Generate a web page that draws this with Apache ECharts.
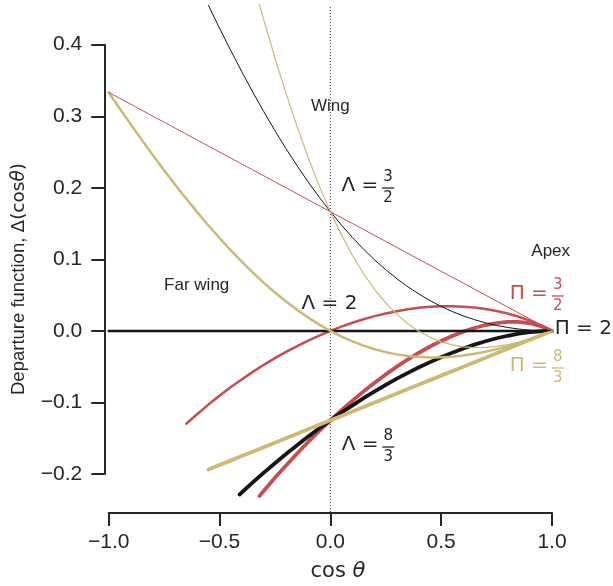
<!DOCTYPE html>
<html>
<head>
<meta charset="utf-8">
<title>Departure function</title>
<script src="https://cdn.jsdelivr.net/npm/echarts@6.0.0/dist/echarts.min.js"></script>
<style>
html, body { margin: 0; padding: 0; background: #ffffff; }
#chart { width: 613px; height: 586px; }
</style>
</head>
<body>
<div id="chart"></div>
<script>
const N = null;

// cos(theta) samples shared by the departure curves
const cosGrid = [-1.00, -0.95, -0.90, -0.85, -0.80, -0.75, -0.70, -0.65, -0.60, -0.55,
                 -0.50, -0.45, -0.40, -0.35, -0.30, -0.25, -0.20, -0.15, -0.10, -0.05,
                  0.00,  0.05,  0.10,  0.15,  0.20,  0.25,  0.30,  0.35,  0.40,  0.45,
                  0.50,  0.55,  0.60,  0.65,  0.70,  0.75,  0.80,  0.85,  0.90,  0.95, 1.00];

// Departure function Δ(cosθ) per (Π, Λ); null where a curve is not drawn.
// Λ = 3/2 family (thin)
const dPi32Lam32 = [0.3333, 0.3250, 0.3167, 0.3083, 0.3000, 0.2917, 0.2833, 0.2750, 0.2667, 0.2583,
                    0.2500, 0.2417, 0.2333, 0.2250, 0.2167, 0.2083, 0.2000, 0.1917, 0.1833, 0.1750,
                    0.1667, 0.1583, 0.1500, 0.1417, 0.1333, 0.1250, 0.1167, 0.1083, 0.1000, 0.0917,
                    0.0833, 0.0750, 0.0667, 0.0583, 0.0500, 0.0417, 0.0333, 0.0250, 0.0167, 0.0083, 0];
const dPi2Lam32 = [N, N, N, N, N, N, N, N, N, 0.4548,
                   0.4231, 0.3923, 0.3625, 0.3338, 0.3063, 0.2799, 0.2547, 0.2308, 0.2081, 0.1868,
                   0.1667, 0.1479, 0.1304, 0.1141, 0.0992, 0.0855, 0.0729, 0.0616, 0.0514, 0.0423,
                   0.0342, 0.0271, 0.0209, 0.0157, 0.0113, 0.0076, 0.0048, 0.0026, 0.0011, 0.0003, 0];
const dPi83Lam32Head = [-0.32, 0.4560];
const dPi83Lam32 = [N, N, N, N, N, N, N, N, N, N,
                    N, N, N, N, 0.4342, 0.3816, 0.3319, 0.2855, 0.2424, 0.2027,
                    0.1667, 0.1342, 0.1053, 0.0799, 0.0578, 0.0390, 0.0231, 0.0099, -0.0007, -0.0090,
                    -0.0153, -0.0196, -0.0222, -0.0233, -0.0231, -0.0216, -0.0191, -0.0155, -0.0111, -0.0059, 0];
// Λ = 2 family (medium)
const dPi32Lam2 = [N, N, N, N, N, N, N, -0.1298, -0.1161, -0.1030,
                   -0.0906, -0.0789, -0.0678, -0.0573, -0.0474, -0.0381, -0.0294, -0.0212, -0.0136, -0.0065,
                   0, 0.0060, 0.0114, 0.0163, 0.0206, 0.0244, 0.0276, 0.0302, 0.0322, 0.0336,
                   0.0344, 0.0345, 0.0339, 0.0327, 0.0307, 0.0279, 0.0243, 0.0197, 0.0143, 0.0077, 0];
const dPi2Lam2 = [0, 0, 0, 0, 0, 0, 0, 0, 0, 0,
                  0, 0, 0, 0, 0, 0, 0, 0, 0, 0,
                  0, 0, 0, 0, 0, 0, 0, 0, 0, 0,
                  0, 0, 0, 0, 0, 0, 0, 0, 0, 0, 0];
const dPi83Lam2 = [0.3333, 0.3106, 0.2884, 0.2666, 0.2453, 0.2245, 0.2043, 0.1847, 0.1657, 0.1474,
                   0.1298, 0.1129, 0.0969, 0.0816, 0.0672, 0.0537, 0.0411, 0.0294, 0.0186, 0.0088,
                   0, -0.0079, -0.0147, -0.0206, -0.0256, -0.0297, -0.0328, -0.0351, -0.0365, -0.0371,
                   -0.0369, -0.0360, -0.0343, -0.0320, -0.0291, -0.0255, -0.0214, -0.0168, -0.0116, -0.0060, 0];
// Λ = 8/3 family (thick)
const dPi32Lam83Head = [-0.32, -0.2309];
const dPi32Lam83 = [N, N, N, N, N, N, N, N, N, N,
                    N, N, N, N, -0.2234, -0.2054, -0.1880, -0.1713, -0.1552, -0.1398,
                    -0.1250, -0.1109, -0.0974, -0.0845, -0.0724, -0.0608, -0.0500, -0.0399, -0.0305, -0.0218,
                    -0.0140, -0.0070, -0.0010, 0.0041, 0.0082, 0.0110, 0.0125, 0.0125, 0.0107, 0.0067, 0];
const dPi2Lam83Head = [-0.41, -0.2287];
const dPi2Lam83 = [N, N, N, N, N, N, N, N, N, N,
                   N, N, -0.2259, -0.2118, -0.1981, -0.1849, -0.1721, -0.1597, -0.1477, -0.1361,
                   -0.1250, -0.1143, -0.1040, -0.0940, -0.0846, -0.0755, -0.0668, -0.0586, -0.0509, -0.0436,
                   -0.0367, -0.0304, -0.0245, -0.0192, -0.0145, -0.0103, -0.0068, -0.0039, -0.0018, -0.0005, 0];
const dPi83Lam83 = [N, N, N, N, N, N, N, N, N, -0.1938,
                    -0.1875, -0.1813, -0.1750, -0.1688, -0.1625, -0.1563, -0.1500, -0.1438, -0.1375, -0.1313,
                    -0.1250, -0.1188, -0.1125, -0.1063, -0.1000, -0.0938, -0.0875, -0.0813, -0.0750, -0.0688,
                    -0.0625, -0.0563, -0.0500, -0.0438, -0.0375, -0.0313, -0.0250, -0.0188, -0.0125, -0.0063, 0];

// Region names and their (cosθ, Δ) centres
const regionNames = ['Wing', 'Far wing', 'Apex'];
const regionAt = [[0, 0.3142], [-0.603, 0.0642], [0.994, 0.1117]];

const RED = '#C44E52', GOLD = '#CCB974', BLACK = '#161616', INK = '#262626';
const SANS = '"Liberation Sans", Arial, sans-serif';
const MATH = '"DejaVu Sans", sans-serif';

function pairs(vals, head) {
  const out = head ? [head.slice()] : [];
  vals.forEach((v, i) => { if (v !== null) out.push([cosGrid[i], v]); });
  return out;
}

function curve(name, vals, head, color, width) {
  return {
    name, type: 'line', data: pairs(vals, head),
    showSymbol: false, symbol: 'none', clip: false, silent: true,
    smooth: false,
    lineStyle: { color, width, cap: 'round', join: 'round' }
  };
}

function tickText(v) {
  if (Math.abs(v) < 1e-9) return '0.0';
  return (v < 0 ? '\u2212' : '') + Math.abs(v).toFixed(1);
}

const chart = echarts.init(document.getElementById('chart'), null, { renderer: 'canvas' });

chart.setOption({
  animation: false,
  backgroundColor: '#ffffff',
  grid: { left: 108.7, right: 61, top: 44.7, bottom: 112, containLabel: false, outerBoundsMode: 'none' },
  xAxis: {
    type: 'value', min: -1, max: 1, interval: 0.5, offset: 39,
    axisLine: { onZero: false, lineStyle: { color: INK, width: 2 } },
    axisTick: { length: 13, lineStyle: { color: INK, width: 2 } },
    axisLabel: { margin: 19, fontSize: 21, fontFamily: SANS, color: INK, formatter: tickText },
    splitLine: { show: false }
  },
  yAxis: {
    type: 'value', min: -0.2, max: 0.4, interval: 0.1, offset: 4.4,
    axisLine: { show: true, onZero: false, lineStyle: { color: INK, width: 2 } },
    axisTick: { show: true, length: 13, lineStyle: { color: INK, width: 2 } },
    axisLabel: { margin: 22, fontSize: 21, fontFamily: SANS, color: INK, formatter: tickText },
    splitLine: { show: false }
  },
  series: [
    {
      name: 'cosθ = 0', type: 'line', data: [[0, 0.4527], [0, -0.2545]],
      showSymbol: false, symbol: 'none', clip: false, silent: true,
      lineStyle: { color: '#333333', width: 1, type: [1, 2] }
    },
    curve('Π=3/2, Λ=8/3', dPi32Lam83, dPi32Lam83Head, RED, 3.8),
    curve('Π=2, Λ=8/3', dPi2Lam83, dPi2Lam83Head, BLACK, 3.8),
    curve('Π=8/3, Λ=8/3', dPi83Lam83, null, GOLD, 3.8),
    curve('Π=3/2, Λ=2', dPi32Lam2, null, RED, 2.5),
    curve('Π=2, Λ=2', dPi2Lam2, null, BLACK, 2.5),
    curve('Π=8/3, Λ=2', dPi83Lam2, null, GOLD, 2.5),
    curve('Π=3/2, Λ=3/2', dPi32Lam32, null, RED, 1),
    curve('Π=2, Λ=3/2', dPi2Lam32, null, BLACK, 1),
    curve('Π=8/3, Λ=3/2', dPi83Lam32, dPi83Lam32Head, GOLD, 1.2)
  ]
});

// ---- annotations placed in data coordinates ----
const measureCtx = document.createElement('canvas').getContext('2d');
function textWidth(s, font) { measureCtx.font = font; return measureCtx.measureText(s).width; }
function toPx(pt) { return chart.convertToPixel({ gridIndex: 0 }, pt); }

function mathLabel(anchor, head, num, den, color) {
  const [x, y] = toPx(anchor);
  const headFont = '20px ' + MATH;
  const fracFont = '15px ' + MATH;
  const items = [{
    type: 'text', x, y, silent: true,
    style: { text: head, font: headFont, fill: color, align: 'left', verticalAlign: 'middle' }
  }];
  if (num) {
    const fx = x + textWidth(head, headFont) + 3.5;
    items.push({ type: 'text', x: fx, y: y - 8.5, silent: true,
      style: { text: num, font: fracFont, fill: color, align: 'center', verticalAlign: 'middle' } });
    items.push({ type: 'line', silent: true,
      shape: { x1: fx - 6, y1: y + 2, x2: fx + 6, y2: y + 2 },
      style: { stroke: color, lineWidth: 1.3 } });
    items.push({ type: 'text', x: fx, y: y + 12, silent: true,
      style: { text: den, font: fracFont, fill: color, align: 'center', verticalAlign: 'middle' } });
  }
  return items;
}

const graphics = [];
regionNames.forEach((t, i) => {
  const [x, y] = toPx(regionAt[i]);
  graphics.push({ type: 'text', x, y, silent: true,
    style: { text: t, font: '17px ' + SANS, fill: INK, align: 'center', verticalAlign: 'middle' } });
});
graphics.push(...mathLabel([0.05, 0.2025], 'Λ = ', '3', '2', INK));
graphics.push(...mathLabel([-0.13, 0.0376], 'Λ = 2', null, null, INK));
graphics.push(...mathLabel([0.051, -0.1595], 'Λ = ', '8', '3', INK));
graphics.push(...mathLabel([0.809, 0.0516], 'Π = ', '3', '2', RED));
graphics.push(...mathLabel([1.012, 0.0027], 'Π = 2', null, null, INK));
graphics.push(...mathLabel([0.809, -0.049], 'Π = ', '8', '3', GOLD));

// axis titles
graphics.push({
  type: 'text', x: 19, y: 279, rotation: Math.PI / 2, silent: true,
  style: {
    text: '{a|Departure function, }{m|Δ(cos}{t|θ}{m|)}',
    align: 'center', verticalAlign: 'middle',
    rich: {
      a: { fontFamily: SANS, fontSize: 18.5, fill: INK },
      m: { fontFamily: MATH, fontSize: 18.5, fill: INK },
      t: { fontFamily: MATH, fontSize: 18.5, fontStyle: 'italic', fill: INK }
    }
  }
});
graphics.push({
  type: 'text', x: 338, y: 572, silent: true,
  style: {
    text: '{m|cos }{t|θ}',
    align: 'center', verticalAlign: 'middle',
    rich: {
      m: { fontFamily: MATH, fontSize: 21, fill: INK },
      t: { fontFamily: MATH, fontSize: 21, fontStyle: 'italic', fill: INK }
    }
  }
});

chart.setOption({ graphic: graphics });
</script>
</body>
</html>
